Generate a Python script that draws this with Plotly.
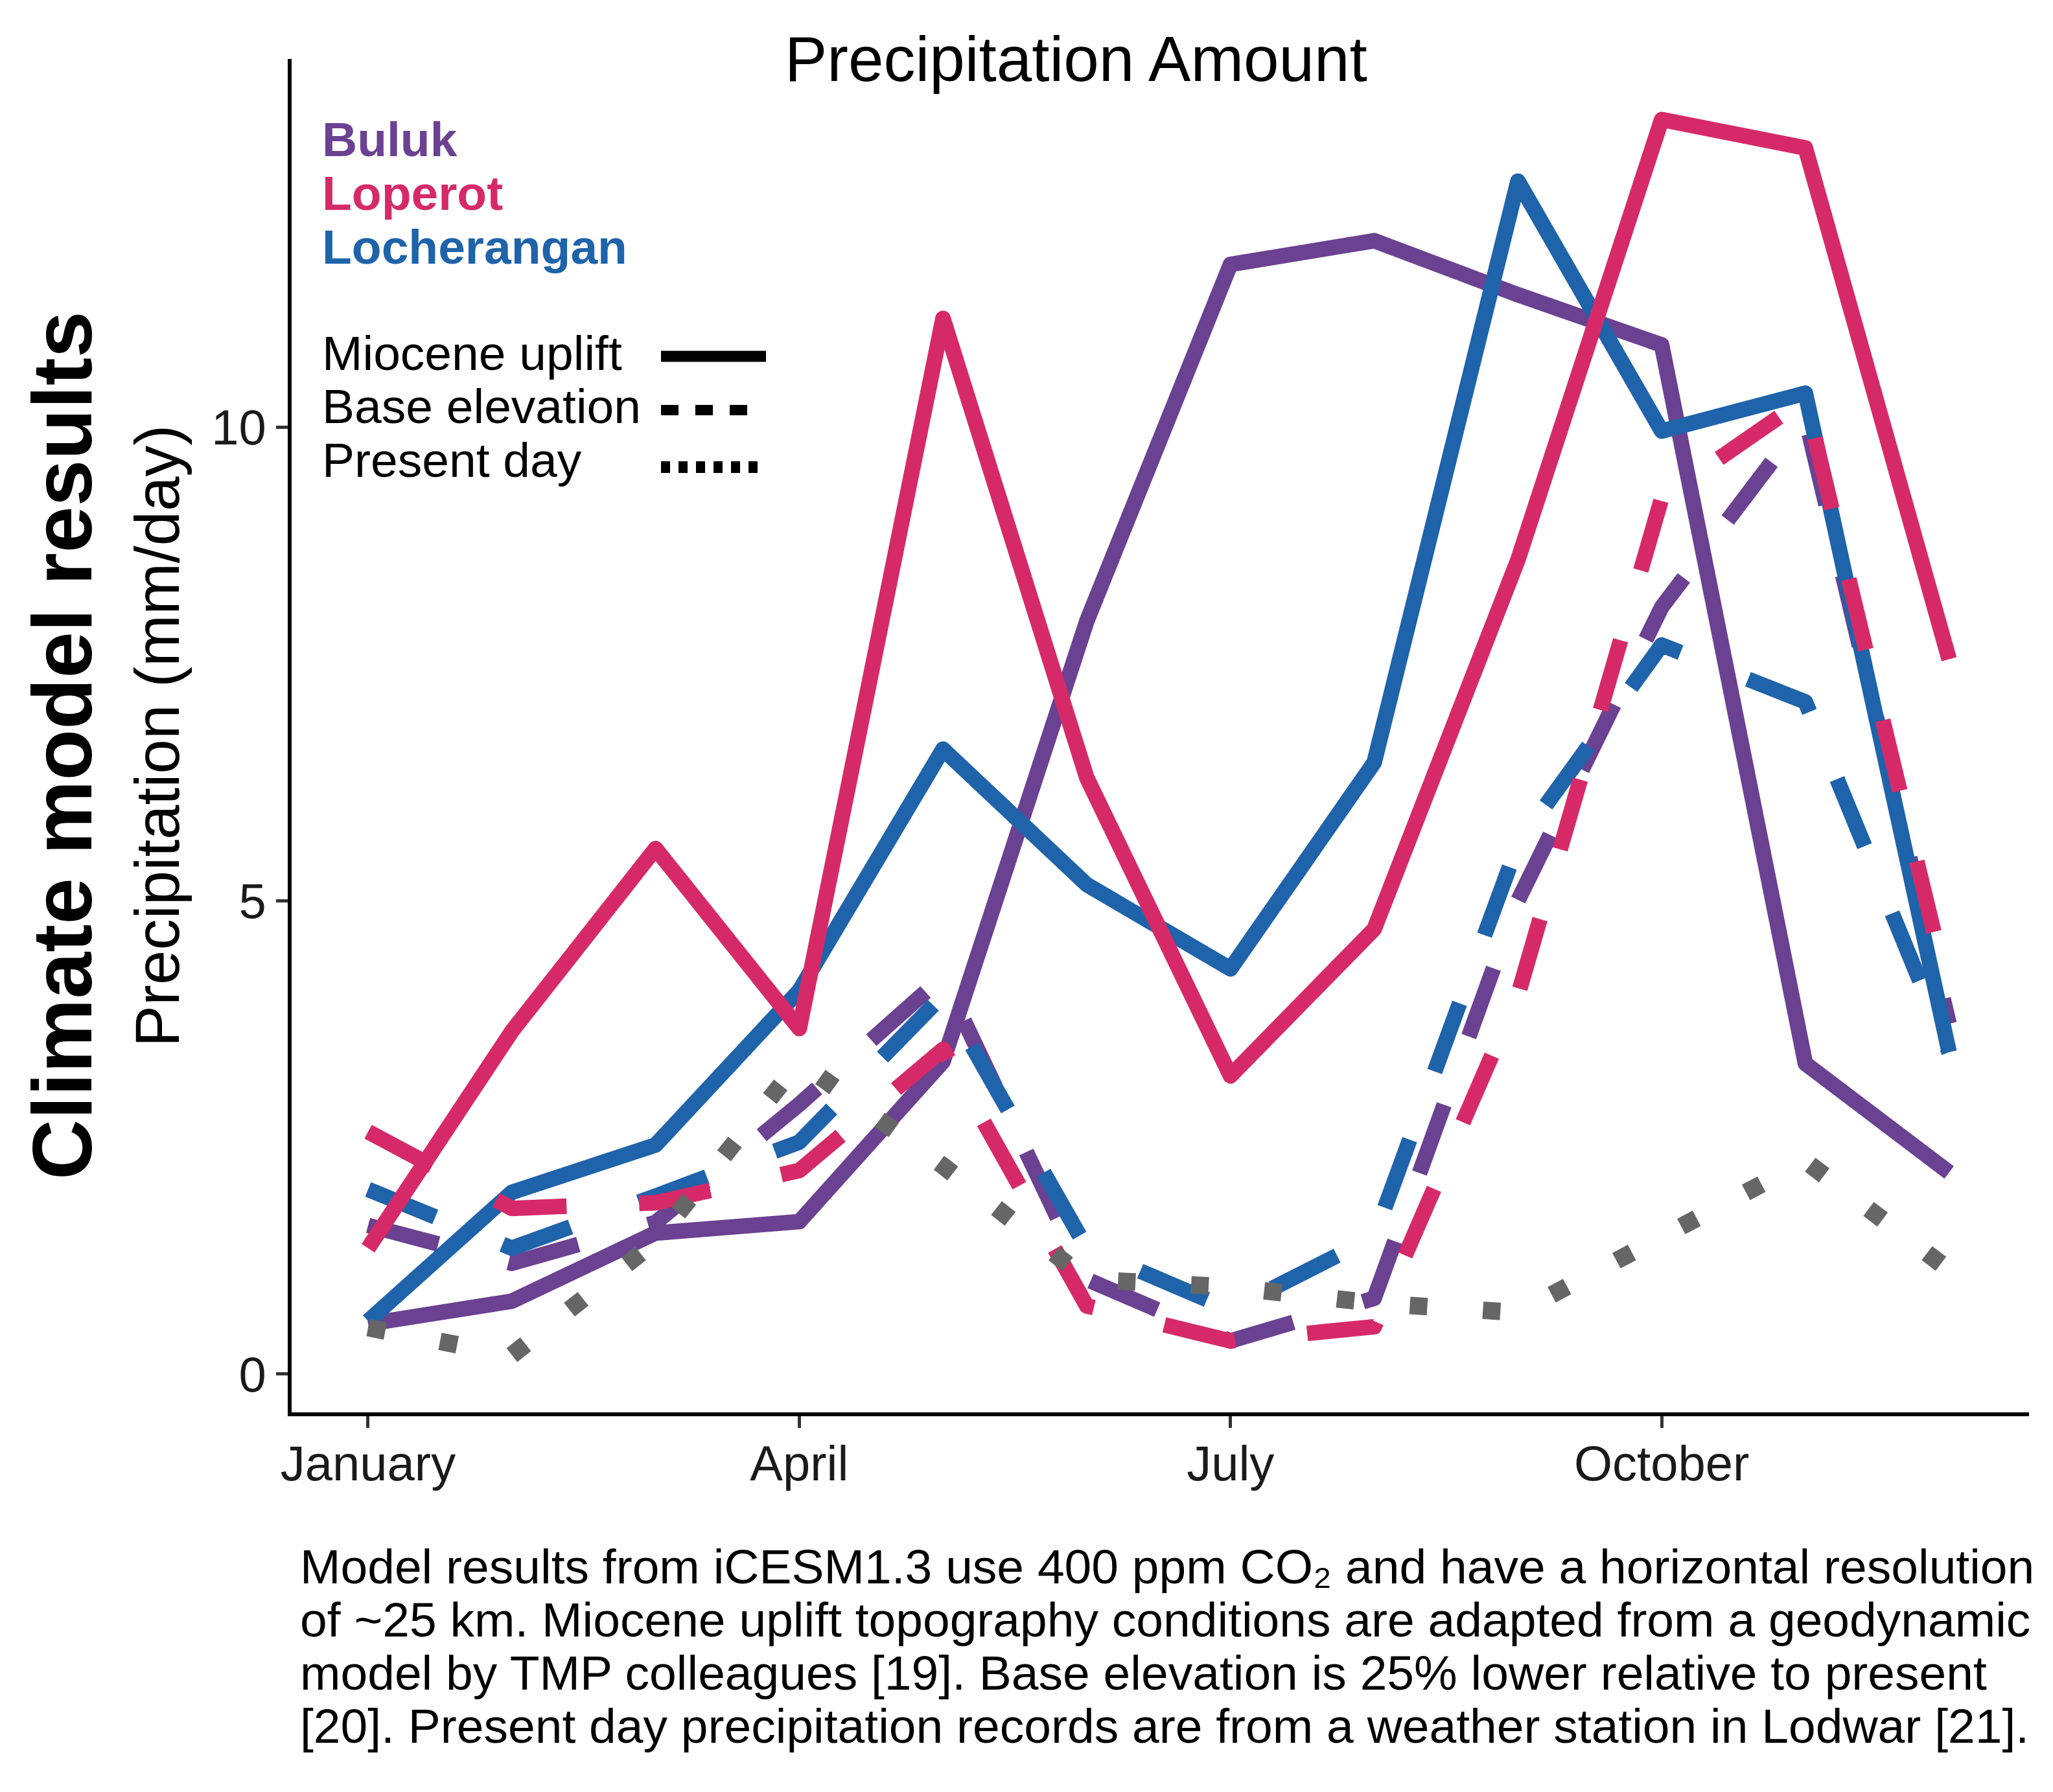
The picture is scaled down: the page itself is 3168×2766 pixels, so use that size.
import plotly.graph_objects as go

# ---------------- data ----------------
months = ["January", "February", "March", "April", "May", "June",
          "July", "August", "September", "October", "November", "December"]
tick_months = ["January", "April", "July", "October"]
y_ticks = [0, 5, 10]

buluk_uplift = [0.53, 0.77, 1.49, 1.61, 3.3, 7.95, 11.72, 11.97, 11.4, 10.87, 3.28, 2.13]
buluk_base = [1.57, 1.17, 1.6, 2.85, 4.2, 1.0, 0.35, 0.8, 5.0, 8.1, 10.1, 3.7]
loperot_uplift = [1.33, 3.62, 5.55, 3.65, 11.15, 6.3, 3.15, 4.7, 8.6, 13.25, 12.95, 7.55]
loperot_base = [2.56, 1.75, 1.81, 2.15, 3.43, 0.72, 0.35, 0.5, 4.0, 9.25, 10.3, 4.0]
locher_uplift = [0.56, 1.92, 2.42, 4.05, 6.6, 5.17, 4.28, 6.46, 12.6, 9.96, 10.36, 3.4]
locher_base = [1.95, 1.33, 1.88, 2.45, 4.0, 1.33, 0.68, 1.45, 5.6, 7.7, 7.1, 3.4]
present_day = [0.49, 0.2, 1.4, 3.3, 2.2, 1.0, 0.92, 0.75, 0.65, 1.45, 2.25, 1.1]

sites = ["Buluk", "Loperot", "Locherangan"]
scenarios = ["Miocene uplift", "Base elevation", "Present day"]

# ---------------- styles ----------------
C_BULUK = "#6B4192"
C_LOPEROT = "#D62A68"
C_LOCHER = "#1F63AA"
C_PRESENT = "#666666"
FONT = "Liberation Sans, Arial, Helvetica, sans-serif"
LW = 24
DASH = "112px,112px"
DOT = "27px,86px"

W, H = 3168, 2766
L, R, T, B = 450, 37, 91, 586
PW = W - L - R
PH = H - T - B


def px_x(px):
    return (px - L) / PW


def px_y(py):
    return (H - B - py) / PH


fig = go.Figure()

traces = [
    (buluk_uplift, C_BULUK, "solid", LW),
    (buluk_base, C_BULUK, DASH, LW),
    (locher_uplift, C_LOCHER, "solid", LW),
    (locher_base, C_LOCHER, DASH, LW),
    (loperot_uplift, C_LOPEROT, "solid", LW),
    (loperot_base, C_LOPEROT, DASH, LW),
    (present_day, C_PRESENT, DOT, 27),
]
for vals, col, dash, w in traces:
    fig.add_trace(go.Scatter(
        x=months, y=vals, mode="lines",
        line=dict(color=col, width=w, dash=dash),
        showlegend=False, hoverinfo="skip",
    ))

ann = []
# title
ann.append(dict(text="Precipitation Amount", x=px_x(1660), y=px_y(91),
                xref="paper", yref="paper", xanchor="center", yanchor="middle",
                showarrow=False, font=dict(family=FONT, size=98, color="black")))
# y titles
ann.append(dict(text="Precipitation (mm/day)", x=px_x(242), y=px_y(1136),
                xref="paper", yref="paper", xanchor="center", yanchor="middle",
                textangle=-90, showarrow=False,
                font=dict(family=FONT, size=96, color="black")))
ann.append(dict(text="<b>Climate model results</b>", x=px_x(96), y=px_y(1151),
                xref="paper", yref="paper", xanchor="center", yanchor="middle",
                textangle=-90, showarrow=False,
                font=dict(family=FONT, size=129, color="black")))
# site legend
for name, col, yy in zip(sites, [C_BULUK, C_LOPEROT, C_LOCHER], [215, 298, 381]):
    ann.append(dict(text="<b>%s</b>" % name, x=px_x(495), y=px_y(yy),
                    xref="paper", yref="paper", xanchor="left", yanchor="middle",
                    showarrow=False, font=dict(family=FONT, size=75, color=col)))
# scenario legend
for name, yy in zip(scenarios, [545, 627, 710]):
    ann.append(dict(text=name, x=px_x(495), y=px_y(yy),
                    xref="paper", yref="paper", xanchor="left", yanchor="middle",
                    showarrow=False, font=dict(family=FONT, size=75, color="black")))

# caption
caption = [
    "Model results from iCESM1.3 use 400 ppm CO\u2082 and have a horizontal resolution",
    "of ~25 km. Miocene uplift topography conditions are adapted from a geodynamic",
    "model by TMP colleagues [19]. Base elevation is 25% lower relative to present",
    "[20]. Present day precipitation records are from a weather station in Lodwar [21].",
]
for line, yy in zip(caption, [2418, 2500, 2582, 2664]):
    ann.append(dict(text=line, x=px_x(461), y=px_y(yy),
                    xref="paper", yref="paper", xanchor="left", yanchor="middle",
                    showarrow=False, font=dict(family=FONT, size=75, color="black")))

# legend line keys
shapes = [
    dict(type="line", xref="paper", yref="paper", x0=px_x(1020), x1=px_x(1182),
         y0=px_y(550), y1=px_y(550), line=dict(color="black", width=17)),
    dict(type="line", xref="paper", yref="paper", x0=px_x(1020), x1=px_x(1156),
         y0=px_y(633), y1=px_y(633), line=dict(color="black", width=16, dash="27px,26px")),
    dict(type="line", xref="paper", yref="paper", x0=px_x(1020), x1=px_x(1170),
         y0=px_y(721), y1=px_y(721), line=dict(color="black", width=18, dash="14px,13px")),
]

fig.update_layout(
    width=W, height=H,
    margin=dict(l=L, r=R, t=T, b=B, pad=0),
    paper_bgcolor="white", plot_bgcolor="white",
    annotations=ann, shapes=shapes,
    font=dict(family=FONT),
    xaxis=dict(
        type="category", categoryorder="array", categoryarray=months,
        range=[-0.532, 11.556], tickvals=tick_months, ticktext=tick_months,
        showgrid=False, zeroline=False, showline=True, linecolor="black", linewidth=6,
        ticks="outside", ticklen=18, tickwidth=5, tickcolor="#333333",
        ticklabelstandoff=-10,
        tickfont=dict(family=FONT, size=76, color="#1a1a1a"),
    ),
    yaxis=dict(
        range=[-0.404, 13.89], tickvals=y_ticks, ticktext=[str(v) for v in y_ticks],
        showgrid=False, zeroline=False, showline=True, linecolor="black", linewidth=6,
        ticks="outside", ticklen=18, tickwidth=5, tickcolor="#333333",
        tickfont=dict(family=FONT, size=76, color="#1a1a1a"),
    ),
)

post = ("document.body.style.margin='0';"
        "document.querySelectorAll('.scatterlayer .js-line').forEach("
        "function(p){p.style.strokeLinejoin='round';});")
fig.write_html("out.html", post_script=post, config={"displayModeBar": False})
